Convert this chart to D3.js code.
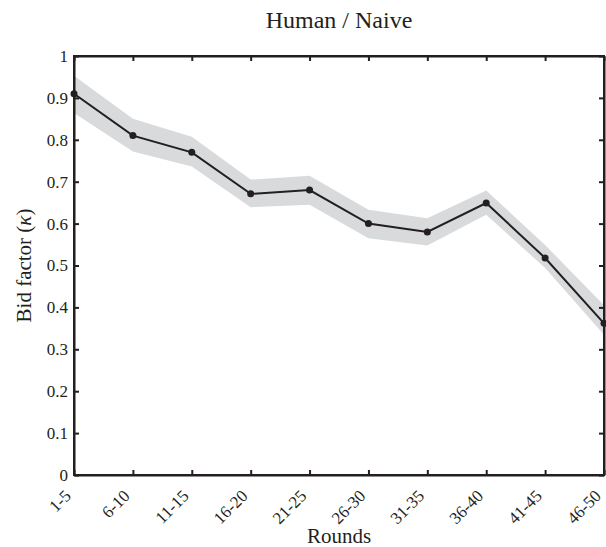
<!DOCTYPE html>
<html>
<head>
<meta charset="utf-8">
<script src="https://cdn.jsdelivr.net/npm/d3@7"></script>
<style>
  html, body { margin: 0; padding: 0; background: #fff; }
  svg { display: block; }
  text { font-family: "Liberation Serif", "Times New Roman", serif; fill: #231f20; }
</style>
</head>
<body>
<svg id="chart" width="606" height="547"></svg>
<script>
const categories = ["1-5", "6-10", "11-15", "16-20", "21-25", "26-30", "31-35", "36-40", "41-45", "46-50"];
const bidFactor = [0.910, 0.810, 0.770, 0.671, 0.680, 0.600, 0.580, 0.649, 0.518, 0.362];
const bandUpper = [0.953, 0.850, 0.807, 0.705, 0.714, 0.633, 0.613, 0.679, 0.549, 0.405];
const bandLower = [0.864, 0.772, 0.736, 0.639, 0.645, 0.565, 0.548, 0.621, 0.494, 0.335];
const yTicks = [0, 0.1, 0.2, 0.3, 0.4, 0.5, 0.6, 0.7, 0.8, 0.9, 1];
const yTickLabels = ["0", "0.1", "0.2", "0.3", "0.4", "0.5", "0.6", "0.7", "0.8", "0.9", "1"];
const titleText = "Human / Naive";
const xLabelText = "Rounds";

(function () {
const ink = "#231f20";
const pLeft = 74, pRight = 604, pTop = 56, pBottom = 475;

const svg = d3.select("#chart");
const x = d3.scalePoint().domain(categories).range([pLeft, pRight]);
const y = d3.scaleLinear().domain([0, 1]).range([pBottom, pTop]);

svg.append("defs").append("clipPath").attr("id", "plotclip")
  .append("rect").attr("x", pLeft).attr("y", pTop).attr("width", pRight - pLeft).attr("height", pBottom - pTop);

const rows = categories.map((c, i) => ({ c, v: bidFactor[i], lo: bandLower[i], hi: bandUpper[i] }));

// confidence band
svg.append("path")
  .datum(rows)
  .attr("clip-path", "url(#plotclip)")
  .attr("fill", "#d9dadb")
  .attr("d", d3.area().x(d => x(d.c)).y0(d => y(d.lo)).y1(d => y(d.hi)));

// axes with inward ticks on all four sides
const tickLen = 5;
const axB = svg.append("g").attr("transform", `translate(0,${pBottom})`)
  .call(d3.axisBottom(x).tickSizeInner(-tickLen).tickSizeOuter(0).tickFormat(""));
const axT = svg.append("g").attr("transform", `translate(0,${pTop})`)
  .call(d3.axisTop(x).tickSizeInner(-tickLen).tickSizeOuter(0).tickFormat(""));
const axL = svg.append("g").attr("transform", `translate(${pLeft},0)`)
  .call(d3.axisLeft(y).tickValues(yTicks).tickSizeInner(-tickLen).tickSizeOuter(0).tickFormat(""));
const axR = svg.append("g").attr("transform", `translate(${pRight},0)`)
  .call(d3.axisRight(y).tickValues(yTicks).tickSizeInner(-tickLen).tickSizeOuter(0).tickFormat(""));
[axB, axT, axL, axR].forEach(g => {
  g.selectAll("path.domain").attr("stroke", ink).attr("stroke-width", 2);
  g.selectAll(".tick line").attr("stroke", ink).attr("stroke-width", 2);
});
svg.append("rect").attr("x", pLeft).attr("y", pTop).attr("width", pRight - pLeft).attr("height", pBottom - pTop)
  .attr("fill", "none").attr("stroke", ink).attr("stroke-width", 2);

// y tick labels
svg.append("g").selectAll("text").data(yTicks).join("text")
  .attr("x", pLeft - 6)
  .attr("y", d => y(d))
  .attr("dy", "0.35em")
  .attr("text-anchor", "end")
  .attr("font-size", 17)
  .text((d, i) => yTickLabels[i]);

// x tick labels (rotated)
svg.append("g").selectAll("text").data(categories).join("text")
  .attr("transform", d => `translate(${x(d) - 2},${pBottom + 22}) rotate(-45)`)
  .attr("text-anchor", "end")
  .attr("font-size", 17)
  .text(d => d);

// line and markers
svg.append("path")
  .datum(rows)
  .attr("fill", "none")
  .attr("stroke", ink)
  .attr("stroke-width", 2)
  .attr("d", d3.line().x(d => x(d.c)).y(d => y(d.v)));

svg.append("g").selectAll("circle").data(rows).join("circle")
  .attr("cx", d => x(d.c))
  .attr("cy", d => y(d.v))
  .attr("r", 3.5)
  .attr("fill", ink);

// title
svg.append("text")
  .attr("x", (pLeft + pRight) / 2)
  .attr("y", 28)
  .attr("text-anchor", "middle")
  .attr("font-size", 24)
  .text(titleText);

// x label
svg.append("text")
  .attr("x", (pLeft + pRight) / 2)
  .attr("y", 543)
  .attr("text-anchor", "middle")
  .attr("font-size", 21)
  .text(xLabelText);

// y label
const yl = svg.append("text")
  .attr("transform", `translate(31,${(pTop + pBottom) / 2}) rotate(-90)`)
  .attr("text-anchor", "middle")
  .attr("font-size", 21);
yl.append("tspan").text("Bid factor (");
yl.append("tspan").attr("font-style", "italic").text("κ");
yl.append("tspan").text(")");
})();
</script>
</body>
</html>
